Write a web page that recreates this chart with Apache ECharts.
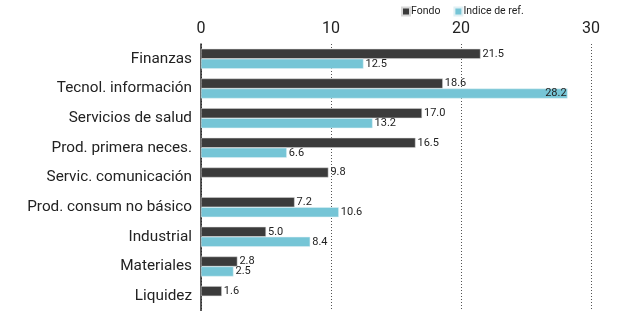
<!DOCTYPE html>
<html>
<head>
<meta charset="utf-8">
<script src="https://cdn.jsdelivr.net/npm/echarts@6/dist/echarts.min.js"></script>
<style>
  html, body { margin: 0; padding: 0; background: #fff; }
  #chart { width: 621px; height: 311px; }
</style>
</head>
<body>
<div id="chart"></div>
<script>
const categories = ['Finanzas', 'Tecnol. información', 'Servicios de salud', 'Prod. primera neces.',
  'Servic. comunicación', 'Prod. consum no básico', 'Industrial', 'Materiales', 'Liquidez'];
const fondo = [21.5, 18.6, 17.0, 16.5, 9.8, 7.2, 5.0, 2.8, 1.6];
const indice = [12.5, 28.2, 13.2, 6.6, null, 10.6, 8.4, 2.5, null];
const xTicks = [0, 10, 20, 30];

const chart = echarts.init(document.getElementById('chart'));
const font = 'Roboto, sans-serif';

const labelFmt = p => p.value == null ? '' : p.value.toFixed(1);

const option = {
  animation: false,
  textStyle: { fontFamily: font },
  legend: {
    left: 396, top: 1,
    itemWidth: 8, itemHeight: 8, itemGap: 13,
    icon: 'rect',
    textStyle: { fontSize: 10.5, color: '#222', padding: [0, 0, 0, -4] },
    data: ['Fondo', 'Indice de ref.']
  },
  grid: { left: 201, right: 30, top: 44, bottom: 0 },
  xAxis: {
    type: 'value', position: 'top', min: 0, max: 30, interval: 10,
    axisLine: { show: false },
    axisTick: { show: false },
    axisLabel: {
      fontSize: 16, color: '#222', margin: 7,
      formatter: v => xTicks.includes(v) ? String(v) : ''
    },
    splitLine: {
      show: true,
      lineStyle: { type: [1, 2], color: '#555', width: 1 }
    }
  },
  yAxis: {
    type: 'category', inverse: true, data: categories,
    axisLine: { show: true, lineStyle: { color: '#222', width: 1.5 } },
    axisTick: { show: false },
    axisLabel: { fontSize: 15.3, color: '#222', margin: 9 }
  },
  series: [
    {
      name: 'Fondo', type: 'bar', data: fondo,
      barWidth: 10, barGap: '0%',
      itemStyle: { color: '#3b3b3b', borderColor: '#d8d8d8', borderWidth: 0.5 },
      label: { show: true, position: 'right', distance: 2, fontSize: 11, color: '#222', formatter: labelFmt }
    },
    {
      name: 'Indice de ref.', type: 'bar',
      data: indice.map((v, i) => v != null && v > 25
        ? { value: v, label: { position: 'insideRight', distance: 1 } }
        : v),
      barWidth: 10,
      itemStyle: { color: '#76c5d6', borderColor: '#e0f0f4', borderWidth: 0.5 },
      label: { show: true, position: 'right', distance: 2, fontSize: 11, color: '#222', formatter: labelFmt }
    }
  ]
};

chart.setOption(option);
</script>
</body>
</html>
